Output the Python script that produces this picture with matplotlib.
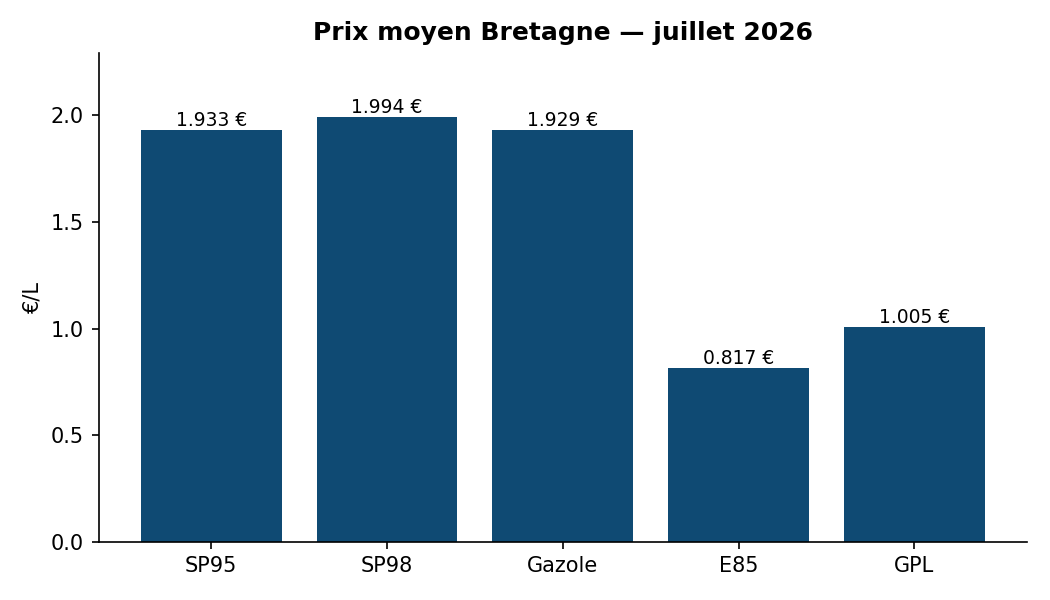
import matplotlib
matplotlib.use('Agg')
import matplotlib.pyplot as plt

# carburants et prix moyens
carburants = ['SP95', 'SP98', 'Gazole', 'E85', 'GPL']
prix = [1.933, 1.994, 1.929, 0.817, 1.005]

fig, ax = plt.subplots(figsize=(7, 4), dpi=150)
fig.subplots_adjust(left=0.094, right=0.978, bottom=0.097, top=0.912)

bars = ax.bar(carburants, prix, width=0.8, color='#0f4a73')
ax.bar_label(bars, labels=[f'{p:.3f} €' for p in prix], fontsize=9)

ax.set_ylim(0, max(prix) * 1.15)
ax.set_ylabel('€/L', fontsize=10)
ax.set_title('Prix moyen Bretagne — juillet 2026', fontsize=12, fontweight='bold')
ax.tick_params(labelsize=10)
ax.spines['top'].set_visible(False)
ax.spines['right'].set_visible(False)

fig.savefig('out.png', dpi=150)
